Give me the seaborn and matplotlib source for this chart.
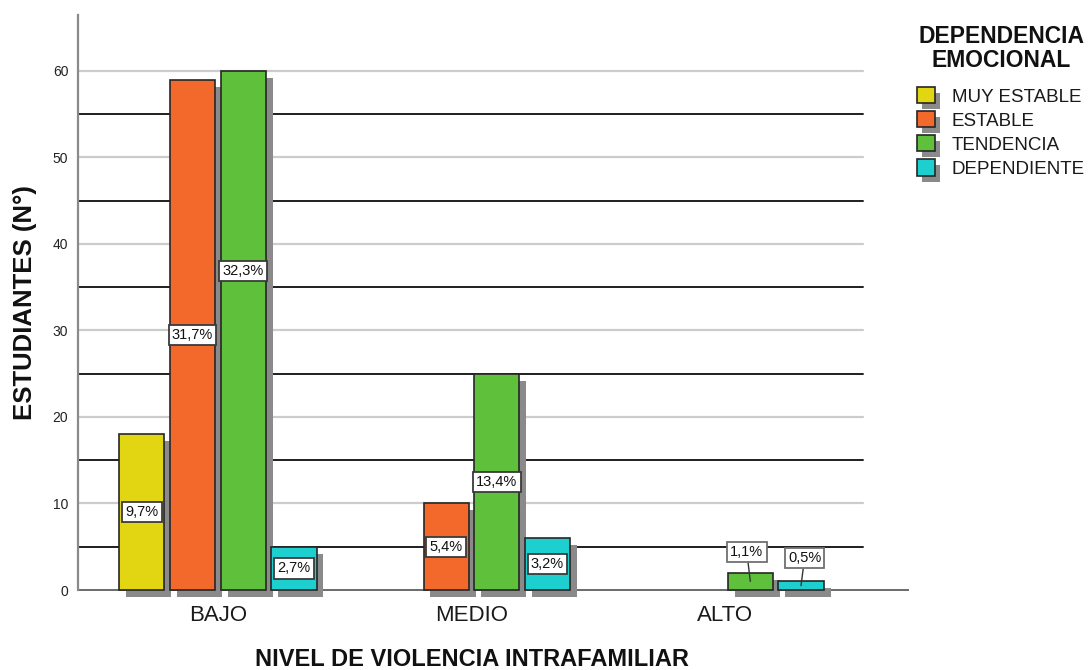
import matplotlib
matplotlib.use("Agg")
import matplotlib.pyplot as plt
import matplotlib.patheffects as pe
from matplotlib.patches import Patch
import seaborn as sns
import pandas as pd

# ---- data ----
niveles = ["BAJO", "MEDIO", "ALTO"]
dependencia = ["MUY ESTABLE", "ESTABLE", "TENDENCIA", "DEPENDIENTE"]
muy_estable = [18, 0, 0]
estable = [59, 10, 0]
tendencia = [60, 25, 2]
dependiente = [5, 6, 1]
yticks = [0, 10, 20, 30, 40, 50, 60]

series = [muy_estable, estable, tendencia, dependiente]
colors = ["#e2d613", "#f2692b", "#5fc13b", "#1ecfcf"]

rows = []
for dep, vals in zip(dependencia, series):
    for niv, v in zip(niveles, vals):
        rows.append({"nivel": niv, "dep": dep, "n": v})
df = pd.DataFrame(rows)
total = df["n"].sum()

sns.set_theme(style="white")
plt.rcParams["font.family"] = ["Liberation Sans", "DejaVu Sans"]

W, H = 1092, 670
fig = plt.figure(figsize=(W / 100, H / 100), dpi=100)
L, R, T, B = 78, 908, 15, 590
ax = fig.add_axes([L / W, (H - B) / H, (R - L) / W, (B - T) / H])

shadow = [pe.SimplePatchShadow(offset=(5.0, -5.0), shadow_rgbFace="#8a8a8a", alpha=1.0), pe.Normal()]

sns.barplot(data=df, x="nivel", y="n", hue="dep", order=niveles, hue_order=dependencia,
            palette=colors, width=0.8, gap=0.11, edgecolor="#262626", linewidth=1.2,
            saturation=1, ax=ax, legend=False, zorder=3)

ax.set_xlim(-0.552, 2.722)
ax.set_ylim(0, 66.47)

# gridlines (end before the axis end)
gx = (863 - L) / (R - L)
for y in range(5, 60, 10):
    ax.axhline(y, xmin=0, xmax=gx, color="#1e1e1e", lw=1.4, zorder=1)
for y in range(10, 61, 10):
    ax.axhline(y, xmin=0, xmax=gx, color="#cccccc", lw=1.6, zorder=1)

# bars: shadows, hide zero-height bars, labels
special = {("BAJO", "TENDENCIA"): (0.0, 36.9, False),
           ("ALTO", "TENDENCIA"): (-0.014, 4.4, True),
           ("ALTO", "DEPENDIENTE"): (0.014, 3.7, True)}
for hi, cont in enumerate(ax.containers):
    dep = dependencia[hi]
    for bar in cont:
        h = bar.get_height()
        cx = bar.get_x() + bar.get_width() / 2
        ci = int(round(cx))
        niv = niveles[ci]
        if h <= 0:
            bar.set_visible(False)
            continue
        bar.set_path_effects(shadow)
        bar.set_clip_on(False)
        pct = f"{100 * h / total:.1f}%".replace(".", ",")
        dx, ly, leader = special.get((niv, dep), (0.0, h / 2, False))
        if leader:
            ax.annotate(pct, xy=(cx, h / 2), xytext=(cx + dx, ly), ha="center", va="center",
                        fontsize=10.5, color="#111111", zorder=6,
                        bbox=dict(boxstyle="square,pad=0.22", fc="white", ec="#707070", lw=1.3),
                        arrowprops=dict(arrowstyle="-", color="#333333", lw=1.0,
                                        shrinkA=0, shrinkB=0))
        else:
            ax.text(cx + dx, ly, pct, ha="center", va="center", fontsize=10.5, color="#111111",
                    zorder=6,
                    bbox=dict(boxstyle="square,pad=0.22", fc="white", ec="#3a3a3a", lw=1.3))

# axes styling
for s in ["top", "right"]:
    ax.spines[s].set_visible(False)
ax.spines["left"].set_color("#8a8a8a")
ax.spines["left"].set_linewidth(1.6)
ax.spines["bottom"].set_color("#6a6a6a")
ax.spines["bottom"].set_linewidth(1.4)
ax.spines["bottom"].set_zorder(2)

ax.set_yticks(yticks)
ax.set_yticklabels([str(t) for t in yticks])
ax.tick_params(axis="y", length=0, pad=7, labelsize=10, labelcolor="#222222")
ax.tick_params(axis="x", length=0, pad=11, labelsize=16, labelcolor="#1a1a1a")

ax.set_xlabel("NIVEL DE VIOLENCIA INTRAFAMILIAR", fontsize=17, fontweight="bold", color="#111111")
ax.set_ylabel("ESTUDIANTES (N°)", fontsize=18.5, fontweight="bold", color="#111111")
ax.xaxis.set_label_coords((472 - L) / (R - L), (B - 660) / (B - T))
ax.xaxis.label.set_va("center")
ax.yaxis.set_label_coords((25 - L) / (R - L), 0.5)
ax.yaxis.label.set_va("center")

# legend title
fig.text(1001 / W, 1 - 48.5 / H, "DEPENDENCIA\nEMOCIONAL", ha="center", va="center",
         multialignment="center", fontsize=16.5, fontweight="bold", color="#111111",
         linespacing=1.02)

# legend entries
lshadow = [pe.SimplePatchShadow(offset=(3.8, -4.3), shadow_rgbFace="#8a8a8a", alpha=1.0), pe.Normal()]
handles = [Patch(facecolor=c, edgecolor="#262626", linewidth=1.2, label=d, path_effects=lshadow)
           for c, d in zip(colors, dependencia)]
leg = fig.legend(handles=handles, loc="upper left",
                 bbox_to_anchor=(917 / W, 1 - 87 / H), bbox_transform=fig.transFigure,
                 frameon=False, fontsize=13.5, handlelength=0.95, handleheight=0.95,
                 handletextpad=0.9, labelspacing=0.3, borderpad=0, borderaxespad=0)
for t in leg.get_texts():
    t.set_color("#1a1a1a")

fig.savefig("out.png", dpi=100)
